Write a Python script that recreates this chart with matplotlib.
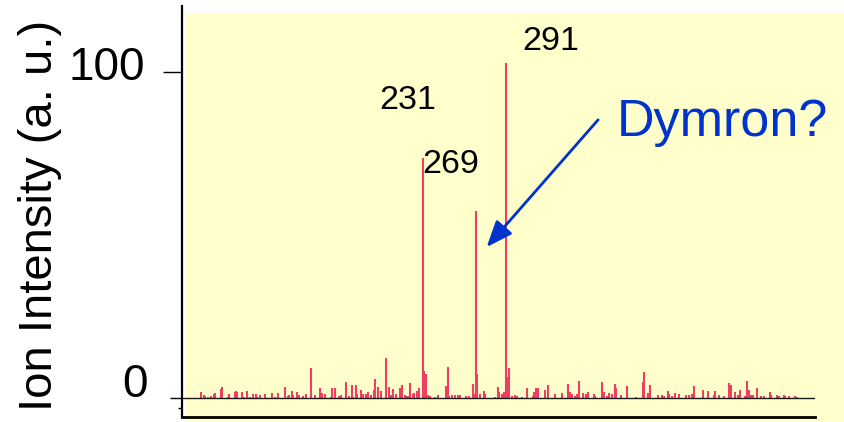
import numpy as np
import matplotlib
matplotlib.use("Agg")
import matplotlib.pyplot as plt
from matplotlib.patches import Rectangle
from matplotlib.transforms import blended_transform_factory

plt.rcParams['font.family'] = ['Liberation Sans', 'DejaVu Sans']

# mass spectrum: m/z and relative ion intensity
mz = [72, 74, 75, 77, 79, 81, 82, 86, 87, 91, 92, 96, 97, 98, 101, 103, 105, 107, 109, 111,
      112, 114, 118, 123, 125, 127, 132, 134, 135, 137, 138, 141, 142, 145, 147, 151, 154, 157,
      159, 161, 165, 166, 168, 171, 172, 176, 178, 180, 181, 183, 184, 187, 188, 190, 192, 194,
      196, 197, 199, 201, 205, 207, 208, 210, 212, 215, 216, 218, 220, 221, 222, 224, 225, 227,
      228, 231, 232, 233, 235, 236, 240, 242, 248, 249, 250, 252, 254, 256, 258, 262, 264, 267,
      268, 269, 270, 272, 275, 276, 283, 285, 286, 288, 289, 291, 292, 293, 295, 297, 299, 302,
      306, 310, 311, 312, 314, 319, 321, 326, 331, 335, 337, 338, 340, 342, 343, 346, 348, 350,
      354, 355, 360, 361, 363, 365, 367, 369, 370, 373, 378, 384, 389, 390, 393, 394, 400, 403,
      404, 407, 408, 410, 412, 415, 420, 422, 424, 426, 432, 436, 440, 441, 444, 447, 451, 452,
      455, 457, 459, 462, 464, 465, 467, 468, 471, 474, 476, 480, 481, 485, 487, 490, 491, 494,
      498, 500]
intensity = [1.9, 0.9, 0.5, 0.4, 0.6, 1.2, 1.6, 2.7, 3.3, 0.4, 1.3, 1.9, 2.1, 1.8, 2.0, 0.4, 2.2,
             0.4, 1.1, 1.2, 0.4, 0.9, 1.4, 1.6, 0.4, 1.7, 3.4, 0.6, 1.0, 2.1, 1.0, 1.9, 0.8, 0.7,
             1.3, 9.1, 0.9, 3.2, 1.6, 1.1, 0.4, 3.0, 3.0, 0.5, 0.9, 4.8, 0.6, 4.1, 0.4, 3.9, 1.2,
             2.5, 1.2, 1.2, 1.9, 0.8, 2.5, 5.8, 3.3, 2.2, 12.4, 3.3, 0.8, 2.7, 1.1, 3.0, 4.1, 1.0,
             0.6, 0.6, 4.7, 1.4, 1.6, 2.2, 3.0, 73.6, 8.3, 7.3, 0.9, 0.6, 0.4, 0.8, 3.7, 9.6, 0.6,
             0.9, 0.9, 0.9, 0.9, 0.6, 0.6, 4.2, 1.4, 57.4, 7.3, 1.2, 2.1, 1.1, 0.3, 3.3, 1.8, 1.4,
             1.8, 102.8, 6.5, 9.1, 0.6, 0.8, 0.6, 0.4, 3.0, 0.6, 1.9, 3.0, 3.0, 2.5, 4.0, 1.4, 1.6,
             4.3, 1.8, 1.3, 0.6, 1.3, 5.3, 1.6, 1.4, 1.8, 1.4, 0.7, 5.0, 2.0, 0.6, 1.5, 1.3, 4.2,
             3.1, 1.0, 3.7, 0.4, 4.8, 8.0, 1.7, 4.1, 1.0, 1.0, 0.7, 2.2, 1.4, 0.5, 1.6, 1.1, 0.9,
             1.0, 1.2, 3.7, 2.5, 2.1, 1.0, 2.1, 1.0, 0.6, 4.5, 4.1, 1.9, 0.9, 2.5, 0.6, 5.3, 2.5,
             0.9, 1.0, 3.0, 0.6, 0.5, 1.8, 0.8, 1.0, 0.6, 1.0, 0.6, 0.6, 0.6, 0.4]

# labelled peaks and where their labels sit (pixel offset from peak top)
peak_labels = [231, 269, 291]
label_offsets = [(-43, 49), (-53, 38), (16, 13)]

ytick_vals = [0, 100]
ytick_text = ['0', '100']

W, H = 844, 422
fig = plt.figure(figsize=(W / 100, H / 100), dpi=100)
fig.patch.set_facecolor('white')

# pale yellow panel behind the plot
fig.add_artist(Rectangle((185 / W, 0), (W - 185) / W, (H - 13) / H,
                         transform=fig.transFigure, facecolor='#ffffcc',
                         edgecolor='none', zorder=0))

ax = fig.add_axes([182 / W, 5 / H, (815 - 182) / W, (416 - 5) / H])
ax.patch.set_visible(False)
ax.set_xlim(58.2, 512.6)
ax.set_ylim(-5.8, 120.2)

ax.vlines(mz, 0, intensity, color='#ec3f62', lw=1.5, zorder=2)
ax.axhline(0, color='#1a1a1a', lw=1.0, zorder=3)

for sp in ['top', 'right']:
    ax.spines[sp].set_visible(False)
ax.spines['left'].set_linewidth(1.6)
ax.spines['bottom'].set_linewidth(2.0)

ax.set_xticks([])
ax.set_yticks(ytick_vals)
ax.set_yticks([-3], minor=True)
ax.tick_params(axis='y', which='both', labelleft=False, width=1.0, color='black')
ax.tick_params(axis='y', which='minor', length=3)
ticks = ax.yaxis.get_major_ticks()
ticks[0].tick1line.set_markersize(8.6)
ticks[1].tick1line.set_markersize(13.7)

# y tick labels drawn as text so they can sit a little above their ticks
trans = blended_transform_factory(ax.transAxes, ax.transData)
ax.text(-0.054, ytick_vals[0] + 0.3, ytick_text[0], transform=trans,
        ha='right', va='baseline', fontsize=33)
ax.text(-0.0585, ytick_vals[1] - 2.5, ytick_text[1], transform=trans,
        ha='right', va='baseline', fontsize=33)

fig.text(0.047, 0.49, 'Ion Intensity (a. u.)', rotation=90, ha='center',
         va='center', fontsize=34)

for m, off in zip(peak_labels, label_offsets):
    h = intensity[mz.index(m)]
    ax.annotate(str(m), xy=(m, h), xytext=off, textcoords='offset pixels',
                ha='left', va='baseline', fontsize=24.5, zorder=4)

blue = '#0033cc'
ax.text(370.3, 80.4, 'Dymron?', color=blue, fontsize=37.5, ha='left', va='baseline')
ax.annotate('', xy=(276.9, 46.3), xytext=(356.9, 85.3),
            arrowprops=dict(arrowstyle='-|>,head_length=0.8,head_width=0.32',
                            mutation_scale=20, lw=2, color=blue,
                            shrinkA=0, shrinkB=0))

fig.savefig('out.png', dpi=100)
